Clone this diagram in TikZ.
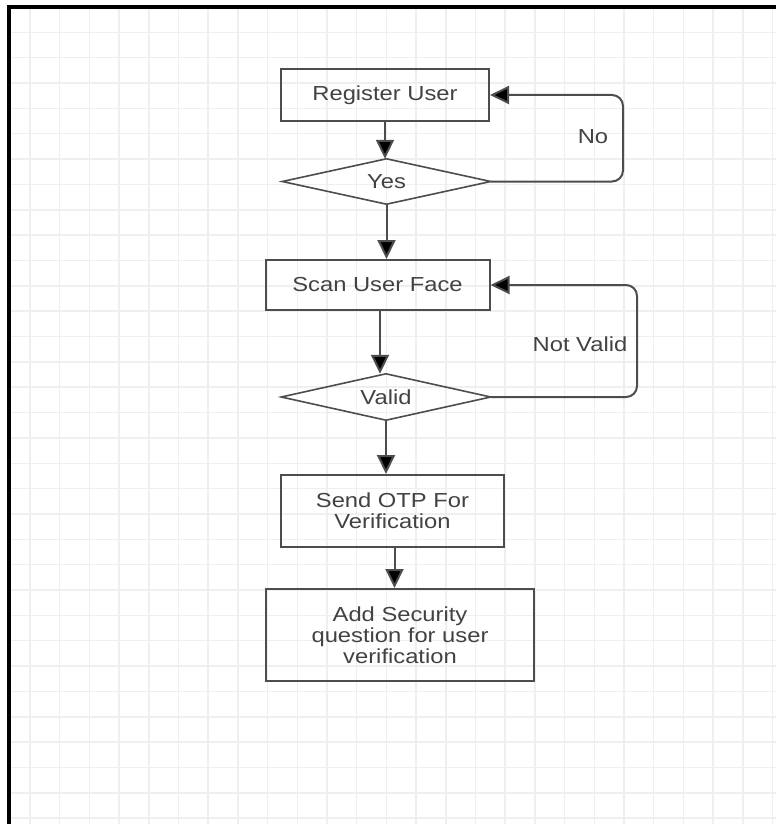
\documentclass[tikz,border=0pt]{standalone}
\usepackage{fontspec}
\setmainfont{Liberation Sans}[FakeStretch=1.17]
\usetikzlibrary{arrows.meta}
\definecolor{gridc}{HTML}{EFEFEF}
\definecolor{linec}{HTML}{4D4D4D}
\definecolor{textc}{HTML}{424242}
\tikzset{
  box/.style={draw=linec,line width=2pt,rectangle,inner sep=0pt,align=center,text=textc,font=\fontsize{20.3}{21}\selectfont},
  decision/.style={rectangle,inner sep=0pt,text=textc,font=\fontsize{20.3}{21}\selectfont},
  dedge/.style={draw=linec,line width=1.6pt,line join=miter},
  flow/.style={draw=linec,line width=2pt,-{Triangle[length=19pt,width=18pt,fill=black]}},
  lbl/.style={text=textc,font=\fontsize{20.3}{21}\selectfont,inner sep=0pt}
}
\begin{document}
\begin{tikzpicture}[x=1pt,y=-1pt]
\useasboundingbox (0,0) rectangle (776,824);
\fill[white] (0,0) rectangle (776,824);
% grid
\begin{scope}
\clip (11,9) rectangle (776,824);
\foreach \k in {0,...,25} \draw[gridc,line width=1.5pt] ({30+29.7*\k},9) -- ({30+29.7*\k},824);
\foreach \k in {0,...,31} \draw[gridc,line width=1.5pt] (11,{32.3+25.35*\k}) -- (776,{32.3+25.35*\k});
\end{scope}
% frame
\fill[black] (7,5) rectangle (11,824);
\fill[black] (7,5) rectangle (776,9);
% nodes
\node[box,minimum width=208pt,minimum height=52pt] (reg) at (385,95) {Register User};
\node[decision,minimum width=208pt,minimum height=45pt] (yes) at (386.5,181.5) {Yes};
\node[box,minimum width=224pt,minimum height=50pt] (scan) at (377.5,285) {Scan User Face};
\node[decision,minimum width=209pt,minimum height=46pt] (valid) at (386,397) {Valid};
\node[box,minimum width=223pt,minimum height=72pt] (send) at (392.5,511) {Send OTP For\\Verification};
\node[box,minimum width=268pt,minimum height=92pt] (add) at (400,635) {Add Security\\question for user\\verification};
\node[lbl] (no) at (593,137) {No};
\node[lbl] (nv) at (580,344) {Not Valid};
\draw[dedge] (yes.west) -- (yes.north) -- (yes.east) -- (yes.south) -- cycle;
\draw[dedge] (valid.west) -- (valid.north) -- (valid.east) -- (valid.south) -- cycle;
\coordinate (loopa) at (623,0);
\coordinate (loopb) at (637,0);
% connectors
\draw[flow] (reg.south) -- (reg.south |- yes.north);
\draw[flow] (yes.south) -- (yes.south |- scan.north);
\draw[flow] ([xshift=2.5pt]scan.south) -- ([xshift=2.5pt]scan.south |- valid.north);
\draw[flow] (valid.south) -- (valid.south |- send.north);
\draw[flow] ([xshift=2pt]send.south) -- ([xshift=2pt]send.south |- add.north);
\draw[flow,rounded corners=11pt] (yes.east) -- (yes.east -| loopa) -- (reg.east -| loopa) -- (reg.east);
\draw[flow,rounded corners=11pt] (valid.east) -- (valid.east -| loopb) -- (scan.east -| loopb) -- (scan.east);
\end{tikzpicture}
\end{document}
